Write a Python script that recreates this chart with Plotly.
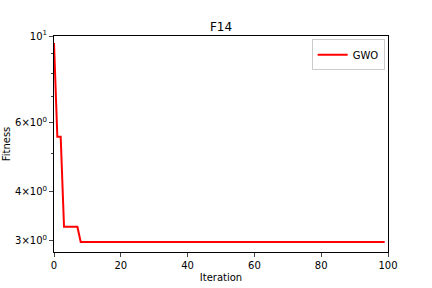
import plotly.graph_objects as go

iterations = list(range(100))
fitness = [9.6, 5.53, 5.53] + [3.26] * 5 + [2.982] * 92

y_tick_vals = [3, 4, 6, 10]
y_tick_text = ["3×10<sup>0</sup>", "4×10<sup>0</sup>", "6×10<sup>0</sup>", "10<sup>1</sup>"]
y_minor_vals = [5, 7, 8, 9]
x_tick_vals = [0, 20, 40, 60, 80, 100]

fig = go.Figure()
fig.add_trace(go.Scatter(x=iterations, y=fitness, mode="lines", name="GWO",
                         line=dict(color="red", width=2)))

fig.update_layout(
    width=432, height=288,
    margin=dict(l=54, r=44, t=36, b=36),
    paper_bgcolor="white", plot_bgcolor="white",
    font=dict(family="DejaVu Sans", size=10, color="black"),
    title=dict(text="F14", x=0.5, xref="paper", xanchor="center",
               y=1, yref="paper", yanchor="bottom", pad=dict(b=5),
               font=dict(size=12)),
    showlegend=True,
    legend=dict(x=0.99, y=0.985, xanchor="right", yanchor="top",
                bordercolor="#cccccc", borderwidth=1, bgcolor="white",
                itemwidth=30, font=dict(size=10)),
)
fig.update_xaxes(range=[0, 100], tickvals=x_tick_vals, ticks="outside", ticklen=4,
                 showgrid=False, zeroline=False, showline=True, linecolor="black",
                 linewidth=1, mirror=True, automargin=False,
                 tickfont=dict(size=10),
                 title=dict(text="Iteration", standoff=3, font=dict(size=10)))
fig.update_yaxes(type="log", range=[0.4487, 1.0], tickvals=y_tick_vals, ticktext=y_tick_text,
                 ticks="outside", ticklen=4, showgrid=False, zeroline=False,
                 showline=True, linecolor="black", linewidth=1, mirror=True,
                 automargin=False, tickfont=dict(size=10),
                 minor=dict(tickvals=y_minor_vals, ticks="outside", ticklen=2, showgrid=False),
                 title=dict(text="Fitness", standoff=2, font=dict(size=10)))

fig.write_html("out.html")
